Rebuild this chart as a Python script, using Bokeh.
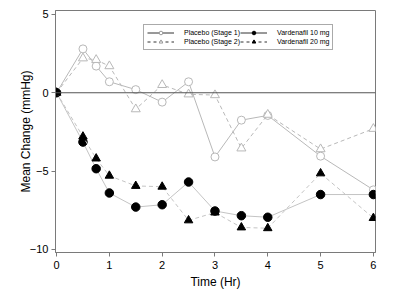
from bokeh.plotting import figure
from bokeh.models import Legend, LegendItem, Range1d, FixedTicker, Span
from bokeh.embed import file_html
from bokeh.resources import INLINE

# Time points (hours)
time_hr = [0, 0.5, 0.75, 1, 1.5, 2, 2.5, 3, 3.5, 4, 5, 6]

# Mean change in blood pressure (mmHg)
placebo_stage1 = [0, 2.8, 1.7, 0.7, 0.2, -0.6, 0.7, -4.1, -1.75, -1.45, -4.05, -6.2]
placebo_stage2 = [0, 2.2, 2.1, 1.7, -1.05, 0.5, -0.1, -0.15, -3.55, -1.4, -3.6, -2.3]
vardenafil_10 = [0, -3.15, -4.85, -6.4, -7.3, -7.15, -5.7, -7.55, -7.85, -7.95, -6.5, -6.5]
vardenafil_20 = [0, -2.8, -4.2, -5.3, -5.95, -6.0, -8.15, -7.65, -8.6, -8.65, -5.15, -8.0]

legend_labels = ["Placebo (Stage 1)", "Placebo (Stage 2)", "Vardenafil 10 mg", "Vardenafil 20 mg"]

FONT = "Liberation Sans"
AXIS_GRAY = "#7a7a7a"
LINE_GRAY = "#c4c4c4"
PLACEBO_GRAY = "#b8b8b8"

p = figure(width=400, height=299, output_backend="svg", toolbar_location=None,
           x_range=Range1d(-0.02, 6.04), y_range=Range1d(-10.2, 5.25),
           min_border_left=55, min_border_right=25, min_border_top=10, min_border_bottom=47)

p.background_fill_color = "white"
p.border_fill_color = "white"
p.outline_line_color = AXIS_GRAY
p.outline_line_width = 1
p.xgrid.visible = False
p.ygrid.visible = False

# zero reference line
p.add_layout(Span(location=0, dimension="width", line_color="#555555", line_width=1.2))

# Placebo series: light gray open markers
p.line(time_hr, placebo_stage1, line_color=PLACEBO_GRAY, line_width=1)
p.scatter(time_hr, placebo_stage1, marker="circle", size=8, fill_color="white",
          line_color=PLACEBO_GRAY, line_width=1)
p.line(time_hr, placebo_stage2, line_color=PLACEBO_GRAY, line_width=1, line_dash="4 3")
p.scatter(time_hr, placebo_stage2, marker="triangle", size=9, fill_color="white",
          line_color=PLACEBO_GRAY, line_width=1)

# Vardenafil series: gray lines, black filled markers
p.line(time_hr, vardenafil_10, line_color=LINE_GRAY, line_width=1)
p.scatter(time_hr, vardenafil_10, marker="circle", size=8.5, fill_color="black",
          line_color="black")
p.line(time_hr, vardenafil_20, line_color=LINE_GRAY, line_width=1, line_dash="4 3")
p.scatter(time_hr, vardenafil_20, marker="triangle", size=8.5, fill_color="black",
          line_color="black")

# Legend samples: hidden copies of each series with darker sample lines
def proxy(series, marker, dash, fill, mline):
    l = p.line(time_hr, series, line_color="#333333", line_width=1, line_dash=dash,
               visible=False)
    s = p.scatter(time_hr, series, marker=marker, size=8, fill_color=fill,
                  line_color=mline, visible=False)
    return [l, s]

items = [
    LegendItem(label=legend_labels[0],
               renderers=proxy(placebo_stage1, "circle", "solid", "white", "#999999")),
    LegendItem(label=legend_labels[1],
               renderers=proxy(placebo_stage2, "triangle", "3 3", "white", "#999999")),
    LegendItem(label=legend_labels[2],
               renderers=proxy(vardenafil_10, "circle", "solid", "black", "black")),
    LegendItem(label=legend_labels[3],
               renderers=proxy(vardenafil_20, "triangle", "3 3", "black", "black")),
]
legend = Legend(items=items, ncols=2, location=(88, 202),
                label_text_font=FONT, label_text_font_size="7px",
                label_text_color="black", label_height=8, glyph_height=9,
                glyph_width=27, label_standoff=10, spacing=0, padding=3, margin=0,
                border_line_color="#555555", border_line_width=1,
                background_fill_color="white", background_fill_alpha=1)
p.add_layout(legend, "center")

# Axes
for ax in (p.xaxis[0], p.yaxis[0]):
    ax.axis_line_color = AXIS_GRAY
    ax.major_tick_line_color = AXIS_GRAY
    ax.major_tick_out = 4
    ax.major_tick_in = 0
    ax.minor_tick_line_color = None
    ax.major_label_text_font = FONT
    ax.major_label_text_font_size = "11px"
    ax.major_label_text_color = "black"
    ax.axis_label_text_font = FONT
    ax.axis_label_text_font_size = "12px"
    ax.axis_label_text_font_style = "normal"
    ax.axis_label_text_color = "black"

p.xaxis.ticker = FixedTicker(ticks=[0, 1, 2, 3, 4, 5, 6])
p.yaxis.ticker = FixedTicker(ticks=[-10, -5, 0, 5])
p.xaxis.axis_label = "Time (Hr)"
p.yaxis.axis_label = "Mean Change (mmHg)"
p.xaxis.major_label_standoff = 4
p.yaxis.major_label_standoff = 3
p.xaxis.axis_label_standoff = 3
p.yaxis.axis_label_standoff = -6

open("out.html", "w").write(file_html(p, INLINE))
